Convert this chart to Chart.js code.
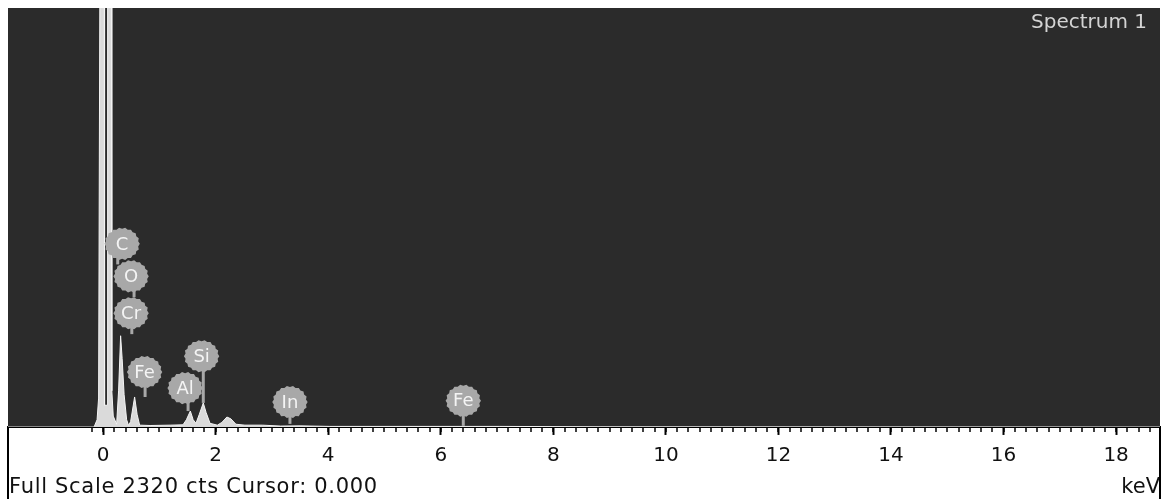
<!DOCTYPE html>
<html>
<head>
<meta charset="utf-8">
<script src="https://cdn.jsdelivr.net/npm/chart.js@4/dist/chart.umd.min.js"></script>
<style>
  html, body { margin: 0; padding: 0; background: #fff; }
</style>
</head>
<body>
<canvas id="theChart" width="1162" height="499"></canvas>
<script>
'use strict';

// spectrum outline (keV / counts)
let energy = [-1.69, -0.16, -0.107, -0.08, -0.05, 0.02, 0.026, 0.074, 0.08, 0.145, 0.155, 0.18,
  0.24, 0.275, 0.311, 0.338, 0.373, 0.418, 0.453, 0.489, 0.56, 0.604, 0.649, 0.835, 1.19, 1.42,
  1.48, 1.55, 1.60, 1.65, 1.71, 1.78, 1.83, 1.90, 2.03, 2.11, 2.20, 2.27, 2.36, 2.52, 2.83, 3.15,
  3.5, 4.03, 7.05, 8.83, 18.78];
let counts = [0, 0, 40, 160, 3200, 3200, 120, 120, 3200, 3200, 200, 60,
  15, 200, 505, 380, 180, 40, 8, 30, 166, 70, 10, 8, 10, 12,
  40, 88, 40, 20, 70, 133, 80, 20, 10, 25, 55, 45, 15, 10, 10, 5,
  6, 3, 3, 1, 0];

let tickValues = [0, 2, 4, 6, 8, 10, 12, 14, 16, 18];
let minorStart = -0.2;
let minorEnd = 18.6;
let minorStep = 0.2;
let fullScale = 2320;

let peakNames = ['C', 'O', 'Cr', 'Fe', 'Al', 'Si', 'In', 'Fe'];
let labelEnergy = [0.338, 0.497, 0.497, 0.737, 1.457, 1.75, 3.32, 6.40];
let labelCounts = [1014, 834, 630, 304, 215, 392, 138, 145];
let stemEnergy = [0.26, 0.55, 0.51, 0.746, 1.51, 1.78, 3.32, 6.40];
let stemCounts = [900, 718, 514, 166, 88, 133, 17, 6];

let spectrumName = 'Spectrum 1';
let footText = 'Full Scale 2320 cts Cursor: 0.000';
let unitText = 'keV';

let fontName = '"DejaVu Sans", Verdana, sans-serif';

let points = [];
for (let i = 0; i < energy.length; i++) {
    points.push({x: energy[i], y: counts[i]});
}

let backdrop = {
    id: 'backdrop',
    beforeDraw(chart) {
        let ctx = chart.ctx;
        let a = chart.chartArea;
        ctx.save();
        ctx.fillStyle = '#ffffff';
        ctx.fillRect(0, 0, chart.width, chart.height);
        ctx.fillStyle = '#2b2b2b';
        ctx.fillRect(a.left, a.top, a.right - a.left, a.bottom - a.top);
        ctx.restore();
    }
};

let peakLabels = {
    id: 'peakLabels',
    afterDatasetsDraw(chart) {
        let ctx = chart.ctx;
        let xs = chart.scales.x;
        let ys = chart.scales.y;
        let r = 17;
        ctx.save();
        for (let i = 0; i < peakNames.length; i++) {
            let sx = xs.getPixelForValue(stemEnergy[i]);
            let cy = ys.getPixelForValue(labelCounts[i]);
            ctx.strokeStyle = '#a8a8a8';
            ctx.lineWidth = 3;
            ctx.beginPath();
            ctx.moveTo(sx, cy);
            ctx.lineTo(sx, ys.getPixelForValue(stemCounts[i]));
            ctx.stroke();
        }
        for (let i = 0; i < peakNames.length; i++) {
            let cx = xs.getPixelForValue(labelEnergy[i]);
            let cy = ys.getPixelForValue(labelCounts[i]);
            ctx.fillStyle = '#a8a8a8';
            ctx.beginPath();
            // slightly bumpy disc like the original markers
            for (let k = 0; k <= 36; k++) {
                let ang = k / 36 * Math.PI * 2;
                let rr = r + (k % 2 === 0 ? 0.7 : -0.7);
                let px = cx + Math.cos(ang) * rr;
                let py = cy + Math.sin(ang) * rr * 0.92;
                if (k === 0) ctx.moveTo(px, py); else ctx.lineTo(px, py);
            }
            ctx.fill();
            ctx.fillStyle = '#f4f4f4';
            ctx.font = '18px ' + fontName;
            ctx.textAlign = 'center';
            ctx.textBaseline = 'middle';
            ctx.fillText(peakNames[i], cx, cy + 1);
        }
        ctx.restore();
    },
    afterDraw(chart) {
        let ctx = chart.ctx;
        let a = chart.chartArea;
        let xs = chart.scales.x;
        ctx.save();
        // minor ticks
        ctx.strokeStyle = '#000';
        ctx.lineWidth = 1.5;
        let n = Math.round((minorEnd - minorStart) / minorStep);
        for (let i = 0; i <= n; i++) {
            let v = minorStart + i * minorStep;
            let px = Math.round(xs.getPixelForValue(v));
            ctx.beginPath();
            ctx.moveTo(px, a.bottom);
            ctx.lineTo(px, a.bottom + 5);
            ctx.stroke();
        }
        // frame of the axis strip
        ctx.lineWidth = 2;
        ctx.beginPath();
        ctx.moveTo(a.left, a.bottom);
        ctx.lineTo(a.left, chart.height);
        ctx.moveTo(a.right, a.bottom);
        ctx.lineTo(a.right, chart.height);
        ctx.stroke();

        ctx.font = '21px ' + fontName;
        ctx.letterSpacing = '0.7px';
        ctx.fillStyle = '#111';
        ctx.textAlign = 'left';
        ctx.textBaseline = 'middle';
        ctx.fillText(footText, a.left + 1, xs.bottom - 11.5);

        ctx.letterSpacing = '0px';
        ctx.fillStyle = '#d4d4d4';
        ctx.textAlign = 'right';
        ctx.font = '20px ' + fontName;
        ctx.fillText(spectrumName, a.right - 13, a.top + 15);
        ctx.restore();
    }
};

let ctx = document.getElementById('theChart').getContext('2d');
let theChart = new Chart(ctx, {
    type: 'line',
    data: {
        datasets: [{
            label: spectrumName,
            data: points,
            borderColor: '#f4f4f4',
            backgroundColor: '#dadada',
            borderWidth: 1,
            pointRadius: 0,
            tension: 0,
            fill: 'origin'
        }]
    },
    options: {
        responsive: false,
        animation: false,
        layout: {
            padding: {top: 8, left: 8, right: 2, bottom: 0}
        },
        plugins: {
            legend: {display: false},
            tooltip: {enabled: false}
        },
        scales: {
            x: {
                type: 'linear',
                min: energy[0],
                max: energy[energy.length - 1],
                afterBuildTicks: (axis) => {
                    axis.ticks = tickValues.map(v => ({value: v}));
                },
                grid: {
                    drawOnChartArea: false,
                    drawTicks: true,
                    tickLength: 8,
                    tickColor: '#000',
                    tickWidth: 2
                },
                border: {display: true, color: '#000', width: 2},
                ticks: {
                    padding: 9,
                    color: '#111',
                    maxRotation: 0,
                    autoSkip: false,
                    font: {family: fontName, size: 20}
                },
                title: {
                    display: true,
                    text: unitText,
                    align: 'end',
                    color: '#111',
                    font: {family: fontName, size: 21, lineHeight: 1.05},
                    padding: {top: 0, bottom: 0}
                }
            },
            y: {
                display: false,
                min: 0,
                max: fullScale
            }
        }
    },
    plugins: [backdrop, peakLabels]
});
</script>
</body>
</html>
